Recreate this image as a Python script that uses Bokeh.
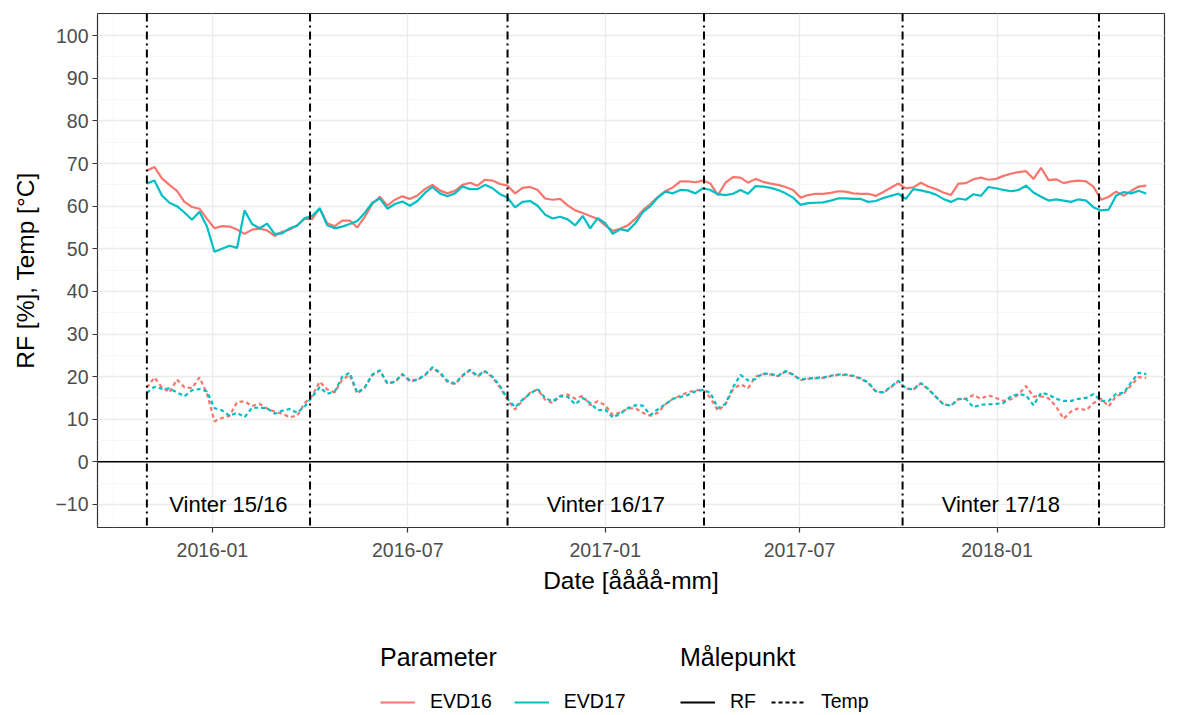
import pandas as pd
from bokeh.plotting import figure
from bokeh.layouts import column
from bokeh.models import (Range1d, Span, Legend, LegendItem, MonthsTicker, DatetimeTickFormatter,
                          SingleIntervalTicker, Grid, ColumnDataSource)
from bokeh.core.properties import value
from bokeh.embed import file_html
from bokeh.resources import INLINE

# ---------------- data (weekly readings from 2015-11-01) ----------------
start_date = "2015-11-01"

rf_evd16 = [68.3, 69.2, 66.5, 65.0, 63.6, 61.0, 59.8, 59.4, 57.0, 54.8,
            55.3, 55.2, 54.5, 53.5, 54.5, 54.7, 54.3, 53.0, 54.0, 54.5,
            55.5, 57.0, 57.0, 59.5, 56.0, 55.3, 56.6, 56.6, 55.0, 57.5,
            60.5, 62.2, 60.1, 61.5, 62.3, 61.7, 62.5, 64.0, 65.0, 63.7,
            63.0, 63.6, 65.0, 65.5, 64.8, 66.2, 66.0, 65.2, 64.8, 63.0,
            64.3, 64.5, 63.8, 61.8, 61.5, 61.7, 60.2, 59.0, 58.4, 57.7,
            57.0, 55.5, 54.2, 54.7, 55.5, 57.0, 59.0, 60.5, 62.2, 63.5,
            64.4, 65.8, 65.8, 65.6, 66.0, 65.3, 62.6, 65.5, 66.8, 66.7,
            65.5, 66.4, 65.7, 65.3, 65.0, 64.5, 63.8, 62.0, 62.6, 62.9,
            62.9, 63.1, 63.5, 63.4, 63.0, 62.9, 62.9, 62.4, 63.3, 64.3,
            65.3, 64.2, 64.4, 65.5, 64.6, 64.0, 63.2, 62.6, 65.3, 65.4,
            66.3, 66.7, 66.2, 66.4, 67.1, 67.6, 68.0, 68.2, 66.4, 69.0,
            66.1, 66.3, 65.4, 65.8, 66.0, 65.8, 64.5, 61.5, 62.2, 63.4,
            62.4, 63.6, 64.6, 64.8]

rf_evd17 = [65.3, 66.0, 62.5, 60.8, 60.0, 58.5, 56.8, 58.7, 55.2, 49.3,
            50.0, 50.7, 50.2, 59.0, 55.8, 54.8, 55.9, 53.5, 53.6, 54.8,
            55.4, 57.2, 57.7, 59.5, 55.5, 54.8, 55.2, 55.8, 56.5, 58.4,
            60.8, 61.8, 59.4, 60.5, 61.1, 60.1, 61.2, 63.1, 64.5, 63.0,
            62.3, 63.0, 64.6, 64.0, 64.0, 65.0, 64.2, 62.8, 62.0, 59.7,
            61.0, 61.2, 60.1, 58.0, 57.1, 57.5, 56.9, 55.5, 57.7, 54.8,
            57.2, 56.0, 53.5, 54.6, 54.2, 56.0, 58.6, 60.0, 62.0, 63.4,
            63.0, 63.8, 63.7, 63.0, 64.2, 63.8, 62.8, 62.6, 62.9, 63.8,
            62.9, 64.7, 64.6, 64.3, 63.8, 63.0, 62.0, 60.3, 60.7, 60.8,
            60.9, 61.3, 61.8, 61.8, 61.7, 61.7, 61.0, 61.2, 61.9, 62.4,
            62.9, 61.7, 64.0, 63.7, 63.3, 62.7, 61.7, 61.0, 61.8, 61.5,
            62.8, 62.4, 64.5, 64.2, 63.8, 63.5, 63.8, 64.8, 63.2, 62.2,
            61.3, 61.6, 61.3, 61.0, 61.6, 61.3, 59.7, 59.0, 59.2, 62.5,
            63.3, 63.0, 63.6, 62.9]

temp_evd16 = [17.4, 19.8, 17.5, 16.3, 19.3, 17.5, 17.3, 19.8, 16.0, 9.5,
              10.3, 10.8, 14.0, 14.2, 13.1, 13.6, 12.5, 11.8, 11.3, 10.5,
              10.8, 13.8, 15.5, 18.8, 17.0, 16.3, 19.3, 20.4, 16.0, 17.4,
              20.3, 21.4, 18.3, 18.7, 20.5, 18.9, 19.2, 20.3, 22.0, 20.8,
              18.8, 18.2, 20.1, 21.5, 20.0, 21.2, 19.8, 17.5, 14.5, 12.3,
              14.4, 16.2, 17.0, 14.6, 13.8, 15.5, 15.8, 14.8, 15.5, 13.3,
              14.2, 13.3, 11.0, 11.6, 12.5, 12.6, 11.5, 10.8, 11.5, 13.5,
              14.8, 15.5, 16.4, 16.7, 17.0, 15.0, 12.0, 13.5, 17.0, 18.2,
              17.3, 20.0, 20.6, 20.5, 20.1, 21.2, 20.4, 19.2, 19.5, 19.6,
              19.7, 20.1, 20.4, 20.4, 20.1, 19.5, 18.5, 16.5, 16.2, 17.5,
              18.9, 17.2, 16.9, 18.4, 17.0, 15.3, 13.5, 13.2, 14.7, 14.8,
              15.7, 14.8, 15.6, 15.0, 14.3, 14.7, 15.8, 17.8, 15.3, 15.4,
              14.9, 13.0, 10.1, 11.8, 12.6, 12.1, 13.8, 14.8, 13.0, 15.5,
              16.0, 18.0, 19.9, 19.7]

temp_evd17 = [16.2, 17.6, 17.2, 17.2, 16.3, 15.4, 16.8, 17.1, 16.5, 12.6,
              12.1, 10.8, 11.5, 10.5, 12.7, 12.7, 12.6, 11.3, 12.0, 12.4,
              11.5, 13.0, 15.3, 17.5, 16.0, 16.5, 20.0, 20.9, 16.2, 17.5,
              20.5, 21.5, 18.5, 18.8, 20.6, 19.1, 19.3, 20.4, 22.2, 21.0,
              19.0, 18.4, 20.3, 21.6, 20.2, 21.3, 20.0, 17.8, 14.8, 12.8,
              14.6, 16.0, 17.1, 15.0, 14.2, 15.4, 15.3, 13.5, 15.0, 13.8,
              12.1, 12.3, 10.4, 11.3, 12.6, 13.3, 13.2, 11.0, 12.3, 13.5,
              14.8, 15.2, 15.7, 16.5, 16.9, 16.2, 12.6, 13.6, 17.5, 20.4,
              19.1, 19.4, 20.8, 20.6, 20.2, 21.3, 20.5, 19.3, 19.6, 19.7,
              19.8, 20.2, 20.5, 20.5, 20.2, 19.6, 18.6, 16.6, 16.3, 17.6,
              19.0, 17.3, 17.0, 18.5, 17.1, 15.3, 13.5, 13.2, 14.7, 14.8,
              12.8, 13.4, 13.5, 13.6, 13.8, 15.4, 15.9, 15.6, 13.3, 16.2,
              15.8, 14.8, 14.3, 14.3, 14.8, 15.0, 15.9, 14.3, 14.3, 16.0,
              16.2, 18.7, 20.9, 20.6]

winter_start = ["2015-11-01", "2016-10-02", "2017-10-05"]
winter_end = ["2016-04-01", "2017-04-03", "2018-04-06"]
winter_labels = ["Vinter 15/16", "Vinter 16/17", "Vinter 17/18"]
winter_label_y = -10

x_limits = ["2015-09-16", "2018-06-06"]
y_limits = [-15.4, 105.2]

col16 = "#F8766D"
col17 = "#00BFC4"
FONT = "Liberation Sans"
TEMP_DASH = "4 3"

dates = pd.date_range(start_date, periods=len(rf_evd16), freq="7D")
src = ColumnDataSource(dict(date=dates, rf16=rf_evd16, rf17=rf_evd17,
                            t16=temp_evd16, t17=temp_evd17))

W = 1175
p = figure(width=W, height=610, x_axis_type="datetime",
           output_backend="svg", toolbar_location=None,
           x_range=Range1d(pd.Timestamp(x_limits[0]), pd.Timestamp(x_limits[1])),
           y_range=Range1d(*y_limits),
           min_border_left=97, min_border_right=11, min_border_top=13,
           min_border_bottom=83)

p.background_fill_color = "white"
p.border_fill_color = "white"
p.outline_line_color = "#333333"
p.outline_line_width = 1.2

# grids
major_x = MonthsTicker(months=[0, 6])
p.xaxis.ticker = major_x
p.xgrid.ticker = major_x
p.xgrid.grid_line_color = "#EBEBEB"
p.xgrid.grid_line_width = 1.3
minor_grid = Grid(dimension=0, ticker=MonthsTicker(months=[3, 9]),
                  grid_line_color="#F4F4F4", grid_line_width=0.7)
p.add_layout(minor_grid)

yt = SingleIntervalTicker(interval=10, num_minor_ticks=2)
p.yaxis.ticker = yt
p.ygrid.ticker = yt
p.ygrid.grid_line_color = "#EBEBEB"
p.ygrid.grid_line_width = 1.3
p.ygrid.minor_grid_line_color = "#F4F4F4"
p.ygrid.minor_grid_line_width = 0.7

p.xaxis.formatter = DatetimeTickFormatter(months="%Y-%m", years="%Y-%m", days="%Y-%m")

for ax in (p.xaxis, p.yaxis):
    ax.axis_line_color = None
    ax.major_tick_line_color = "#333333"
    ax.major_tick_line_width = 1.2
    ax.major_tick_out = 5
    ax.major_tick_in = 0
    ax.minor_tick_line_color = None
    ax.major_label_text_font = FONT
    ax.major_label_text_font_size = "19.5px"
    ax.major_label_text_color = "#4D4D4D"
    ax.axis_label_text_font = FONT
    ax.axis_label_text_font_size = "24.5px"
    ax.axis_label_text_font_style = "normal"
    ax.axis_label_text_color = "black"

p.xaxis.axis_label = "Date [åååå-mm]"
p.yaxis.axis_label = "RF [%], Temp [°C]"
p.xaxis.major_label_standoff = 10
p.xaxis.axis_label_standoff = 7
p.yaxis.major_label_standoff = 4
p.yaxis.axis_label_standoff = 13

# lines
p.line("date", "rf16", source=src, line_color=col16, line_width=2.2)
p.line("date", "rf17", source=src, line_color=col17, line_width=2.2)
p.line("date", "t16", source=src, line_color=col16, line_width=2.2, line_dash=TEMP_DASH)
p.line("date", "t17", source=src, line_color=col17, line_width=2.2, line_dash=TEMP_DASH)

# zero line and winter boundaries
p.add_layout(Span(location=0, dimension="width", line_color="black", line_width=1.5))
for d in winter_start + winter_end:
    p.add_layout(Span(location=pd.Timestamp(d), dimension="height",
                      line_color="black", line_width=2, line_dash="8 4 2 4"))

mid = [pd.Timestamp(a) + (pd.Timestamp(b) - pd.Timestamp(a)) / 2
       for a, b in zip(winter_start, winter_end)]
lab_src = ColumnDataSource(dict(x=mid, y=[winter_label_y] * len(mid), t=winter_labels))
p.text("x", "y", text="t", source=lab_src, text_align="center", text_baseline="middle",
       text_font=value(FONT), text_font_size="22px", text_color="black")

# ---------------- legend strip (separate figure below) ----------------
# The legend figure's ranges exclude the data, so its renderers only show as legend keys.
lg = figure(width=W, height=103, output_backend="svg", toolbar_location=None,
            x_range=Range1d(0, 1), y_range=Range1d(0, 1),
            x_axis_location=None, y_axis_location=None,
            min_border_left=0, min_border_right=0, min_border_top=0, min_border_bottom=0)
lg.grid.visible = False
lg.outline_line_color = None
lg.background_fill_color = "white"
lg.border_fill_color = "white"

e16 = lg.line("date", "rf16", source=src, line_color=col16, line_width=2.2)
e17 = lg.line("date", "rf17", source=src, line_color=col17, line_width=2.2)
rf_key = lg.line("date", "rf16", source=src, line_color="black", line_width=2.2)
tp_key = lg.line("date", "t16", source=src, line_color="black", line_width=2.2,
                 line_dash=TEMP_DASH)

def style_legend(leg, spacing):
    leg.orientation = "horizontal"
    leg.title_text_font = FONT
    leg.title_text_font_size = "25px"
    leg.title_text_font_style = "normal"
    leg.title_text_color = "black"
    leg.title_standoff = 18
    leg.label_text_font = FONT
    leg.label_text_font_size = "19.5px"
    leg.label_text_color = "black"
    leg.glyph_width = 35
    leg.glyph_height = 20
    leg.label_standoff = 15
    leg.spacing = spacing
    leg.padding = 0
    leg.margin = 0
    leg.border_line_color = None
    leg.background_fill_alpha = 0

leg1 = Legend(items=[LegendItem(label="EVD16", renderers=[e16]),
                     LegendItem(label="EVD17", renderers=[e17])],
              title="Parameter", location=(283, 0))
leg2 = Legend(items=[LegendItem(label="RF", renderers=[rf_key]),
                     LegendItem(label="Temp", renderers=[tp_key])],
              title="Målepunkt", location=(583, 0))
style_legend(leg1, 22)
style_legend(leg2, 15)
lg.add_layout(leg1)
lg.add_layout(leg2)

layout = column(p, lg, spacing=0)
open("out.html", "w").write(file_html(layout, INLINE))
